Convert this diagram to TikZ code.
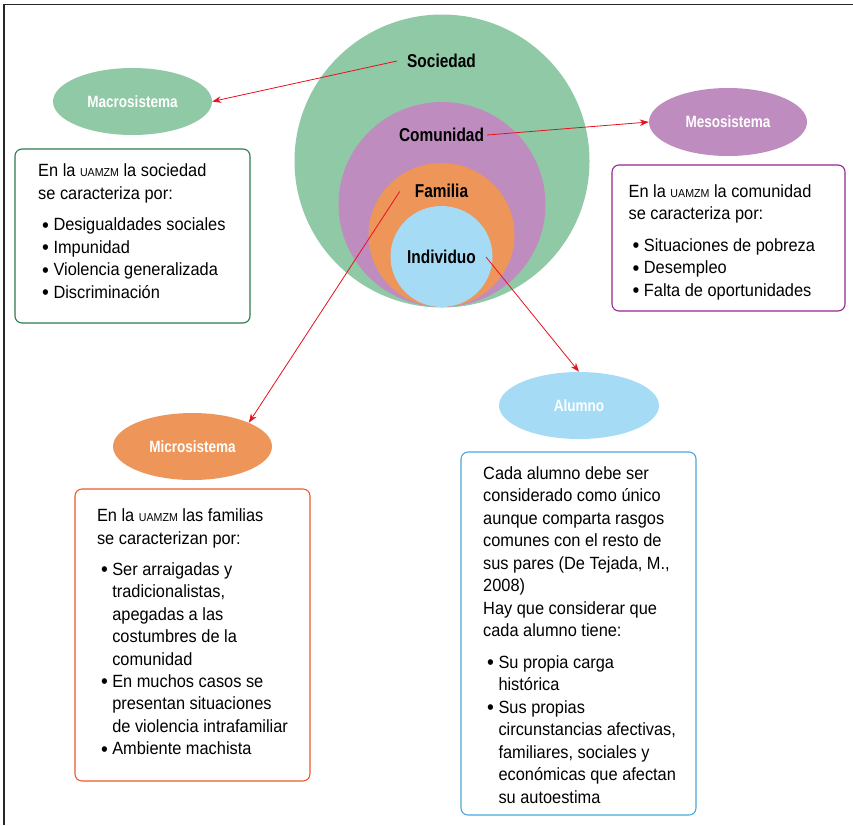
\documentclass[tikz,border=0pt]{standalone}
\usepackage{fontspec}
\setmainfont{Liberation Sans}[FakeStretch=0.925]
\newfontfamily\lblfont{Liberation Sans Bold}[FakeStretch=0.83]
\usetikzlibrary{shapes.geometric,arrows.meta}
\definecolor{cgreen}{HTML}{90C9A5}
\definecolor{cpurple}{HTML}{BF8CBF}
\definecolor{corange}{HTML}{EE955A}
\definecolor{cblue}{HTML}{A6DBF6}
\definecolor{bgreen}{HTML}{2D7A4F}
\definecolor{bpurple}{HTML}{93278F}
\definecolor{borange}{HTML}{EA5B2D}
\definecolor{bblue}{HTML}{48A7DC}
\definecolor{cred}{HTML}{E8101E}
\newcommand{\uam}{{\fontsize{11.5pt}{12pt}\selectfont UAMZM}}
\newcommand{\bul}{\hspace*{4pt}\makebox[11.3pt][l]{\raisebox{-1.4pt}{\fontsize{21pt}{0pt}\selectfont\textbullet}}}
\newcommand{\cnt}{\hspace*{15.3pt}}
\tikzset{
  blob/.style={ellipse, inner sep=0pt, draw=none},
  circlbl/.style={inner sep=0pt, font={\lblfont\fontsize{18.6pt}{20pt}\selectfont}, text=black},
  syslbl/.style={blob, font={\lblfont\fontsize{16.3pt}{18pt}\selectfont}, text=white},
  infobox/.style={draw, rounded corners=7pt, line width=1.1pt, inner sep=0pt},
  infotext/.style={anchor=north west, inner sep=0pt, align=left, font={\fontsize{17.7pt}{22.45pt}\selectfont}},
  redarrow/.style={draw=cred, line width=0.8pt, -{Stealth[length=9pt,width=6.5pt]}}
}
\begin{document}
\begin{tikzpicture}[x=1pt,y=-1pt]
\useasboundingbox (0,0) rectangle (853,825);
% frame
\draw[line width=1.4pt, color=black!85] (4,825) -- (4,4.5) -- (853,4.5);
% nested ellipses
\node[blob, fill=cgreen, minimum width=295pt, minimum height=293pt] (soce) at (442,161) {};
\node[blob, fill=cpurple, minimum width=207pt, minimum height=205pt] (come) at (442,204.5) {};
\node[blob, fill=corange, minimum width=146pt, minimum height=144pt] (fame) at (441.5,235) {};
\node[blob, fill=cblue, minimum width=102pt, minimum height=101pt] (inde) at (441.5,256.5) {};
% labels
\node[circlbl] (soc) at (441.5,61) {Sociedad};
\node[circlbl] (com) at (441.5,135) {Comunidad};
\node[circlbl] (fam) at (441.5,190.5) {Familia};
\node[circlbl] (ind) at (441.5,257) {Individuo};
% system ellipses
\node[syslbl, fill=cgreen, minimum width=159pt, minimum height=67pt] (macro) at (132.5,101.5) {Macrosistema};
\node[syslbl, fill=cpurple, minimum width=158pt, minimum height=68pt] (meso) at (728,122) {Mesosistema};
\node[syslbl, fill=corange, minimum width=159pt, minimum height=67pt] (micro) at (192.5,446.5) {Microsistema};
\node[syslbl, fill=cblue, minimum width=160pt, minimum height=67pt] (alum) at (579,405.5) {Alumno};
% boxes
\node[infobox, draw=bgreen, minimum width=235pt, minimum height=174pt] (boxg) at (132.5,236) {};
\node[infobox, draw=bpurple, minimum width=233pt, minimum height=146pt] (boxp) at (728.5,238) {};
\node[infobox, draw=borange, minimum width=235pt, minimum height=292pt] (boxo) at (192.5,635) {};
\node[infobox, draw=bblue, minimum width=235pt, minimum height=363pt] (boxb) at (578.5,633.5) {};
% texts
\node[infotext] (txg) at (38,163.8) {En la \uam{} la sociedad\\ se caracteriza por:\\[9pt]
\bul Desigualdades sociales\\ \bul Impunidad\\ \bul Violencia generalizada\\ \bul Discriminación};
\node[infotext] (txp) at (628.4,184.4) {En la \uam{} la comunidad\\ se caracteriza por:\\[9pt]
\bul Situaciones de pobreza\\ \bul Desempleo\\ \bul Falta de oportunidades};
\node[infotext] (txo) at (96.8,508.8) {En la \uam{} las familias\\ se caracterizan por:\\[8.5pt]
\bul Ser arraigadas y\\ \cnt tradicionalistas,\\ \cnt apegadas a las\\ \cnt costumbres de la\\ \cnt comunidad\\
\bul En muchos casos se\\ \cnt presentan situaciones\\ \cnt de violencia intrafamiliar\\ \bul Ambiente machista};
\node[infotext] (txb) at (483,466.4) {Cada alumno debe ser\\ considerado como único\\ aunque comparta rasgos\\ comunes con el resto de\\ sus pares (De Tejada, M.,\\ 2008)\\ Hay que considerar que\\ cada alumno tiene:\\[9.5pt]
\bul Su propia carga\\ \cnt histórica\\ \bul Sus propias\\ \cnt circunstancias afectivas,\\ \cnt familiares, sociales y\\ \cnt económicas que afectan\\ \cnt su autoestima};
% arrows
\draw[redarrow] ([xshift=-10pt]soc.west) -- (macro.east);
\draw[redarrow] ([xshift=3pt]com.east) -- (meso.west);
\draw[redarrow] ([xshift=-15pt,yshift=-1pt]fam.west) -- (micro.north east);
\draw[redarrow] ([xshift=10pt]ind.east) -- (alum.north);
\end{tikzpicture}
\end{document}
